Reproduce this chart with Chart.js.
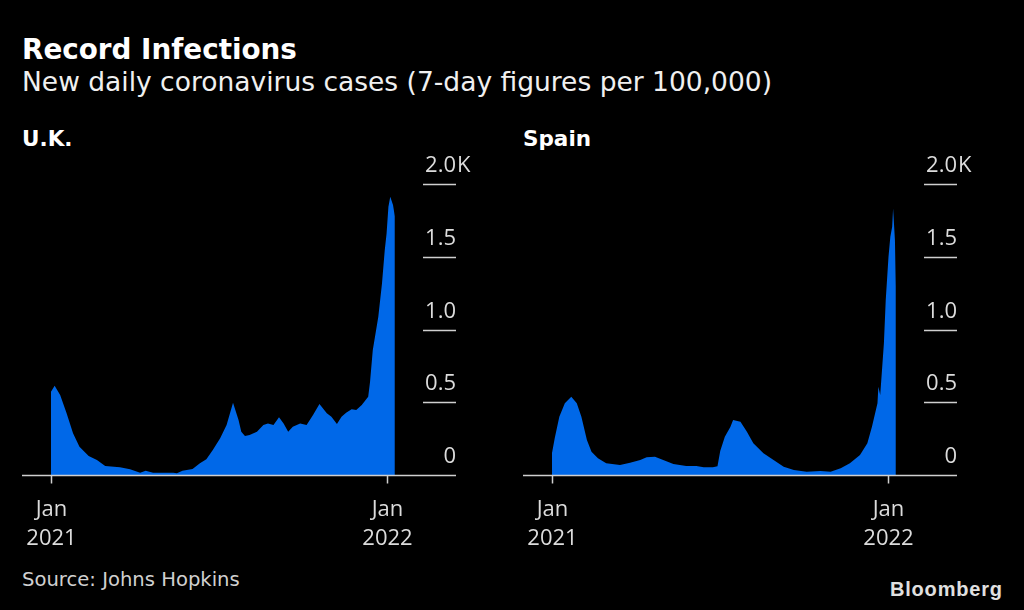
<!DOCTYPE html>
<html>
<head>
<meta charset="utf-8">
<script src="https://cdn.jsdelivr.net/npm/chart.js@4.4.1/dist/chart.umd.min.js"></script>
<style>
  html, body { margin: 0; padding: 0; background: #000; }
  body { width: 1024px; height: 610px; position: relative; overflow: hidden; font-family: "DejaVu Sans", sans-serif; }
  .t { position: absolute; white-space: nowrap; line-height: 1; }
  #title { left: 22px; top: 36px; font-size: 27.8px; font-weight: 700; color: #fff; }
  #subtitle { left: 22px; top: 69px; font-size: 26.5px; color: #f0f0f0; }
  #uk { left: 22px; top: 128px; font-size: 21.5px; font-weight: 700; color: #fff; }
  #es { left: 523px; top: 128px; font-size: 21.5px; font-weight: 700; color: #fff; }
  #source { left: 22px; top: 570px; font-size: 19.6px; color: #d0d0d0; }
  #logo { left: 890px; top: 579px; font-size: 20px; font-weight: 700; color: #e0e0e0; font-family: "Liberation Sans", Arial, sans-serif; letter-spacing: 0.8px; }
  .cw { position: absolute; top: 140px; width: 500px; height: 420px; }
</style>
</head>
<body>
<div class="t" id="title">Record Infections</div>
<div class="t" id="subtitle">New daily coronavirus cases (7-day figures per 100,000)</div>
<div class="t" id="uk">U.K.</div>
<div class="t" id="es">Spain</div>
<div class="t" id="source">Source: Johns Hopkins</div>
<div class="t" id="logo">Bloomberg</div>
<div class="cw" style="left:0px"><canvas id="c1" width="500" height="420"></canvas></div>
<div class="cw" style="left:501px"><canvas id="c2" width="500" height="420"></canvas></div>
<script>
// Days counted from 1 Jan 2021
const ukDays = [0,4,10,17,24,31,41,50,59,75,86,97,103,111,133,137,143,154,162,169,176,184,191,198,204,207,211,216,224,231,236,242,248,253,258,263,271,278,285,292,300,305,311,316,321,327,332,338,345,347,350,356,360,363,365,367,369,372,374];
const ukCases = [573,614,550,424,287,195,131,103,62,53,39,16,30,16,16,12,30,42,80,108,172,252,344,497,378,298,268,275,298,344,355,344,397,355,298,332,355,344,413,488,424,401,351,401,428,452,447,481,539,640,860,1089,1318,1547,1662,1845,1914,1857,1780];

const esDays = [0,3,8,14,21,27,32,38,43,50,59,74,85,96,103,112,121,132,146,157,165,175,180,183,188,194,197,205,212,219,230,241,252,263,277,292,303,314,324,335,343,348,354,355,357,361,363,366,368,370,371,373,374];
const esCases = [150,252,401,493,539,493,401,241,160,115,80,69,85,103,122,126,103,76,62,62,53,53,60,165,263,330,378,367,298,218,149,103,57,34,23,27,23,46,80,138,218,332,493,607,550,906,1204,1502,1639,1708,1834,1616,1300];

const xTickDays = [0, 365];
const xTickMonth = ['Jan', 'Jan'];
const xTickYear = ['2021', '2022'];
const yTickValues = [0, 500, 1000, 1500, 2000];
const yTickLabels = ['0', '0.5', '1.0', '1.5', '2.0'];
const yTickSuffix = ['', '', '', '', 'K'];

const FILL = '#0068e8';
const AXIS = '#cfcfcf';
const LABEL = '#dcdcdc';

const axesPlugin = {
  id: 'bbAxes',
  afterDraw(chart) {
    const { ctx, chartArea: a, scales: { x, y } } = chart;
    ctx.save();
    const y0 = Math.round(y.getPixelForValue(0)) + 0.5;
    ctx.strokeStyle = AXIS;
    ctx.lineWidth = 1.5;
    ctx.beginPath();
    ctx.moveTo(a.left, y0);
    ctx.lineTo(a.right, y0);
    ctx.stroke();
    ctx.font = '22px "Open Sans"';
    ctx.fillStyle = LABEL;
    ctx.textAlign = 'center';
    ctx.textBaseline = 'alphabetic';
    xTickDays.forEach((d, i) => {
      const px = Math.round(x.getPixelForValue(d)) + 0.5;
      ctx.beginPath();
      ctx.moveTo(px, y0);
      ctx.lineTo(px, y0 + 8);
      ctx.stroke();
      ctx.fillText(xTickMonth[i], px, y0 + 40);
      ctx.fillText(xTickYear[i], px, y0 + 69);
    });
    yTickValues.forEach((v, i) => {
      const py = Math.round(y.getPixelForValue(v)) + 0.5;
      if (v > 0) {
        ctx.beginPath();
        ctx.moveTo(a.right - 33, py);
        ctx.lineTo(a.right, py);
        ctx.stroke();
      }
      ctx.textAlign = 'right';
      ctx.fillText(yTickLabels[i], a.right, py - 13);
      if (yTickSuffix[i]) {
        ctx.textAlign = 'left';
        ctx.fillText(yTickSuffix[i], a.right + 1, py - 13);
      }
    });
    ctx.restore();
  }
};

function makeChart(id, days, cases) {
  return new Chart(document.getElementById(id), {
    type: 'line',
    data: {
      datasets: [{
        data: days.map((d, i) => ({ x: d, y: cases[i] })),
        fill: 'origin',
        backgroundColor: FILL,
        borderColor: FILL,
        borderWidth: 0,
        pointRadius: 0,
        tension: 0
      }]
    },
    options: {
      responsive: false,
      animation: false,
      events: [],
      layout: { padding: { left: 22, right: 44, top: 44.3, bottom: 85 } },
      plugins: { legend: { display: false }, tooltip: { enabled: false } },
      scales: {
        x: { type: 'linear', min: -31.5, max: 440.5, display: false },
        y: { min: 0, max: 2000, display: false }
      }
    },
    plugins: [axesPlugin]
  });
}

makeChart('c1', ukDays, ukCases);
makeChart('c2', esDays, esCases);
</script>
</body>
</html>
